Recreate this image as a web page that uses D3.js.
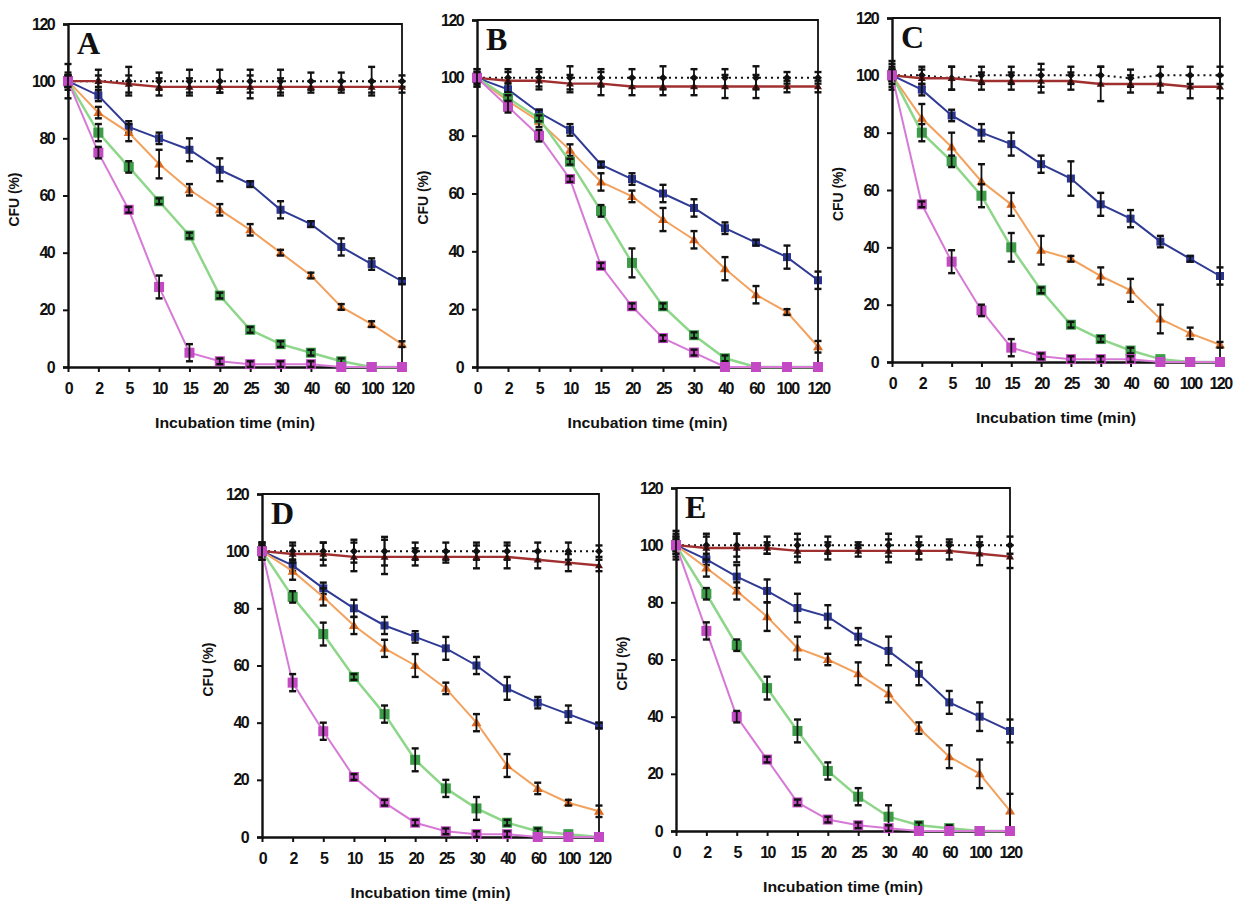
<!DOCTYPE html>
<html><head><meta charset="utf-8">
<script src="https://cdn.jsdelivr.net/npm/d3@7/dist/d3.min.js"></script>
<style>
html,body{margin:0;padding:0;background:#fff;}
svg text{font-family:"Liberation Sans",Arial,sans-serif;}
svg text.letter{font-family:"Liberation Serif","Times New Roman",serif;}
</style></head>
<body><svg id="c" width="1244" height="908"></svg>
<script>
// ---- data ----
const categories = ["0","2","5","10","15","20","25","30","40","60","100","120"];
const yTicks = [0,20,40,60,80,100,120];
const panelLabels = ["A","B","C","D","E"];
const xTitle = "Incubation time (min)";
const yTitle = "CFU (%)";

// values per panel (A..E)
const controlValues = [
  [100,100,100,100,100,100,100,100,100,100,100,100],
  [100,100,100,100,100,100,100,100,100,100,100,100],
  [100,100,99,100,100,100,100,100,99,100,100,100],
  [100,100,100,100,100,100,100,100,100,100,100,100],
  [100,100,100,100,100,100,100,100,100,100,100,100]];
const brownValues = [
  [100,100,99,98,98,98,98,98,98,98,98,98],
  [100,99,99,98,98,97,97,97,97,97,97,97],
  [100,99,99,98,98,98,98,97,97,97,96,96],
  [100,99,99,98,98,98,98,98,98,97,96,95],
  [100,99,99,99,98,98,98,98,98,98,97,96]];
const blueValues = [
  [100,95,84,80,76,69,64,55,50,42,36,30],
  [100,96,88,82,70,65,60,55,48,43,38,30],
  [100,95,86,80,76,69,64,55,50,42,36,30],
  [100,95,87,80,74,70,66,60,52,47,43,39],
  [100,95,89,84,78,75,68,63,55,45,40,35]];
const orangeValues = [
  [100,89,82,71,62,55,48,40,32,21,15,8],
  [100,92,85,75,64,59,51,44,34,25,19,7],
  [100,85,75,63,55,39,36,30,25,15,10,6],
  [100,93,84,74,66,60,52,40,25,17,12,9],
  [100,92,84,75,64,60,55,48,36,26,20,7]];
const greenValues = [
  [100,82,70,58,46,25,13,8,5,2,0,0],
  [100,93,86,71,54,36,21,11,3,0,0,0],
  [100,80,70,58,40,25,13,8,4,1,0,0],
  [100,84,71,56,43,27,17,10,5,2,1,0],
  [100,83,65,50,35,21,12,5,2,1,0,0]];
const magentaValues = [
  [100,75,55,28,5,2,1,1,1,0,0,0],
  [100,90,80,65,35,21,10,5,0,0,0,0],
  [100,55,35,18,5,2,1,1,1,0,0,0],
  [100,54,37,21,12,5,2,1,1,0,0,0],
  [100,70,40,25,10,4,2,1,0,0,0,0]];

// error (± half-widths) per panel
const controlErrors = [
  [6,4,5,3,4,4,4,4,3,3,5,2],
  [3,3,3,4,3,3,4,3,3,4,2,2],
  [5,3,4,3,3,4,3,3,3,3,3,3],
  [3,3,3,4,5,3,3,3,3,3,3,2],
  [5,4,4,3,4,3,1,4,3,2,3,3]];
const brownErrors = [
  [3,2,3,3,3,2,4,3,2,2,2,2],
  [3,3,3,3,4,3,3,3,4,4,2,2],
  [4,3,4,3,3,4,3,6,3,3,4,4],
  [3,3,4,5,6,3,2,4,4,3,3,2],
  [4,4,5,2,4,3,2,4,3,3,4,4]];
const blueErrors = [
  [2,2,2,2,4,4,1,3,1,3,2,1],
  [2,2,1,2,1,2,3,3,2,1,4,3],
  [2,2,2,3,4,3,6,4,3,2,1,3],
  [2,2,2,3,3,2,4,3,4,2,3,1],
  [2,2,4,4,5,4,3,5,4,4,5,4]];
const orangeErrors = [
  [2,2,3,5,2,2,2,1,1,1,1,1],
  [1,3,2,2,3,2,4,3,4,3,1,2],
  [2,5,5,6,4,5,1,3,4,5,2,1],
  [2,3,3,3,3,4,2,3,4,2,1,2],
  [2,3,3,5,4,2,4,3,2,4,5,6]];
const greenErrors = [
  [2,3,2,1,1,1,1,1,1,1,0,0],
  [1,1,1,1,2,5,1,1,1,0,0,0],
  [2,3,2,4,5,1,1,1,1,0,0,0],
  [2,2,4,1,3,4,3,4,1,1,0,0],
  [3,2,2,4,4,3,3,4,1,1,0,0]];
const magentaErrors = [
  [2,2,1,4,3,1,1,1,1,0,0,0],
  [2,2,2,1,1,1,1,1,0,0,0,0],
  [3,1,4,2,3,1,1,1,1,0,0,0],
  [3,3,3,1,1,1,1,1,1,0,0,0],
  [3,3,2,1,1,1,1,1,0,0,0,0]];

// ---- layout & styles ----
const panels = [
  {x0:68,  x1:402,  top:24,  bottom:367},
  {x0:477, x1:818,  top:20,  bottom:367},
  {x0:892, x1:1220, top:18,  bottom:362},
  {x0:262, x1:599,  top:494, bottom:837},
  {x0:676, x1:1010, top:488, bottom:831}];

const seriesDefs = [
  {vals:controlValues, errs:controlErrors, line:"#111", width:2, dash:"2,4", marker:"diamond", fill:"#111", size:4},
  {vals:brownValues, errs:brownErrors, line:"#a03030", width:2.4, dash:null, marker:"triangle", fill:"#4a1010", size:4},
  {vals:blueValues, errs:blueErrors, line:"#2f3a94", width:2, dash:null, marker:"square", fill:"#2a3590", size:8},
  {vals:orangeValues, errs:orangeErrors, line:"#f2a25e", width:2, dash:null, marker:"triangle", fill:"#dd6a1e", size:5},
  {vals:greenValues, errs:greenErrors, line:"#8ed68a", width:2.5, dash:null, marker:"square", fill:"#3c9c48", size:10},
  {vals:magentaValues, errs:magentaErrors, line:"#d67ad6", width:2, dash:null, marker:"square", fill:"#c449c4", size:10}];

const svg = d3.select("#c");

panels.forEach((p, pi) => {
  const g = svg.append("g");
  const x = d3.scalePoint().domain(categories).range([p.x0, p.x1]).padding(0);
  const y = d3.scaleLinear().domain([0,120]).range([p.bottom, p.top]);

  // frame (top & right)
  g.append("path")
    .attr("d", `M${p.x0},${p.top}H${p.x1}V${p.bottom}`)
    .attr("fill","none").attr("stroke","#111").attr("stroke-width",1.8);

  // y axis
  const ya = g.append("g").attr("transform",`translate(${p.x0},0)`)
    .call(d3.axisLeft(y).tickValues(yTicks).tickSize(5).tickPadding(9));
  ya.attr("font-size",null);
  ya.select(".domain").attr("stroke","#111").attr("stroke-width",2.4);
  ya.selectAll(".tick line").attr("stroke","#111").attr("stroke-width",2);
  ya.selectAll(".tick text").style("font-size","16px").style("font-weight","bold")
    .style("letter-spacing","-1.6px").attr("fill","#111");

  // x axis
  const xa = g.append("g").attr("transform",`translate(0,${p.bottom})`)
    .call(d3.axisBottom(x).tickSize(5).tickPadding(11).tickSizeOuter(0));
  xa.attr("font-size",null);
  xa.select(".domain").attr("stroke","#111").attr("stroke-width",2.4);
  xa.selectAll(".tick line").attr("stroke","#111").attr("stroke-width",2);
  xa.selectAll(".tick text").style("font-size","16px").style("font-weight","bold")
    .style("letter-spacing","-1.6px").attr("fill","#111");

  // titles
  g.append("text").attr("x",(p.x0+p.x1)/2).attr("y",p.bottom+61)
    .attr("text-anchor","middle").style("font-size","15px").style("font-weight","bold")
    .attr("textLength",160).attr("lengthAdjust","spacingAndGlyphs")
    .attr("fill","#111").text(xTitle);
  g.append("text")
    .attr("transform",`translate(${p.x0-49},${y(60)+4}) rotate(-90)`)
    .attr("text-anchor","middle").style("font-size","15px").style("font-weight","bold")
    .attr("textLength",54).attr("lengthAdjust","spacingAndGlyphs")
    .attr("fill","#111").text(yTitle);

  // panel letter
  g.append("text").attr("class","letter").attr("x",p.x0+9).attr("y",p.top+30)
    .style("font-size","32px").style("font-weight","bold").attr("fill","#111")
    .text(panelLabels[pi]);

  // series
  seriesDefs.forEach(s => {
    const vals = s.vals[pi], errs = s.errs[pi];
    const pts = categories.map((c,i) => ({c, v: vals[i], e: errs[i]}));
    const line = d3.line().x(d => x(d.c)).y(d => y(d.v));
    g.append("path").datum(pts).attr("d", line)
      .attr("fill","none").attr("stroke", s.line).attr("stroke-width", s.width)
      .attr("stroke-dasharray", s.dash);
    // markers
    const mg = g.append("g");
    pts.forEach(d => {
      const cx = x(d.c), cy = y(d.v), r = s.size;
      if (s.marker === "diamond") {
        mg.append("path").attr("d",`M${cx},${cy-r}L${cx+r},${cy}L${cx},${cy+r}L${cx-r},${cy}Z`).attr("fill",s.fill);
      } else if (s.marker === "square") {
        mg.append("rect").attr("x",cx-r/2).attr("y",cy-r/2).attr("width",r).attr("height",r)
          .attr("fill",s.fill);
      } else {
        mg.append("path").attr("d",`M${cx},${cy-r}L${cx+r},${cy+r*0.7}L${cx-r},${cy+r*0.7}Z`)
          .attr("fill",s.fill);
      }
    });
    // error bars
    const eg = g.append("g").attr("stroke","#111");
    pts.filter(d => d.e > 0).forEach(d => {
      const cx = x(d.c), y1 = y(d.v + d.e), y2 = y(d.v - d.e);
      eg.append("line").attr("x1",cx).attr("x2",cx).attr("y1",y1).attr("y2",y2).attr("stroke-width",1.8);
      eg.append("line").attr("x1",cx-3.5).attr("x2",cx+3.5).attr("y1",y1).attr("y2",y1).attr("stroke-width",2.4);
      eg.append("line").attr("x1",cx-3.5).attr("x2",cx+3.5).attr("y1",y2).attr("y2",y2).attr("stroke-width",2.4);
    });
  });
});
</script></body></html>
